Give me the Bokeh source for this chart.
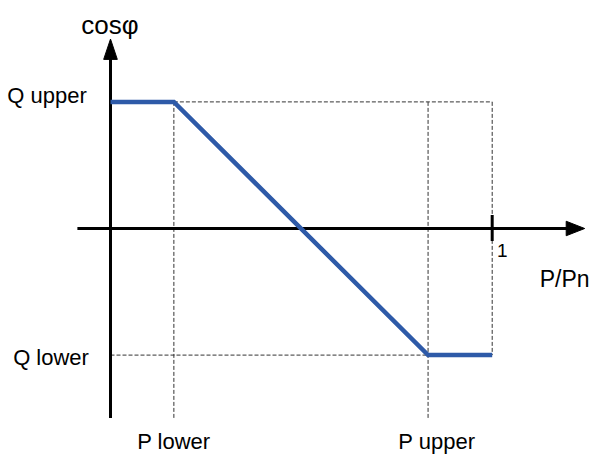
from bokeh.plotting import figure
from bokeh.models import Range1d, Label
from bokeh.embed import file_html
from bokeh.resources import INLINE

# ---- data (P/Pn on x, cosφ setpoint on y) ----
p_breaks = [0.0, 0.166, 0.832, 1.0]
q_values = [1.0, 1.0, -1.0, -1.0]
p_labels = ["P lower", "P upper"]
q_labels = ["Q upper", "Q lower"]
x_title = "P/Pn"
y_title = "cosφ"
x_tick_label = "1"

# ---- layout ----
W, H = 592, 456
X0, X1 = -0.2882, 1.2628
Y0, Y1 = -1.801, 1.801
PX = 1 / 392.0   # data units per reference pixel (x)
PY = 1 / 131.0   # data units per reference pixel (y)

FONT = "Liberation Sans"
BLUE = "#2E5AA8"
DASH = "#333333"

p = figure(width=W, height=H, output_backend="svg", toolbar_location=None,
           x_range=Range1d(X0, X1), y_range=Range1d(Y0, Y1),
           x_axis_type=None, y_axis_type=None, min_border=0)
p.grid.visible = False
p.outline_line_color = None
p.background_fill_color = "white"
p.border_fill_color = "white"

p_low, p_up, p_one = p_breaks[1], p_breaks[2], p_breaks[3]
q_up, q_low = q_values[0], q_values[-1]
y_bottom = q_low - 65 * PY     # bottom end of y axis / guides
y_tip = q_up + 65 * PY         # tip of y arrow
x_left = -34 * PX              # left end of x axis
x_tip = p_one + 95 * PX        # tip of x arrow

# dashed guides
guide_kw = dict(line_color=DASH, line_width=1, line_dash="4 2")
p.line([p_low, p_low], [q_up, y_bottom], **guide_kw)
p.line([p_up, p_up], [q_up, y_bottom], **guide_kw)
p.line([p_one, p_one], [q_up, q_low], **guide_kw)
p.line([p_low, p_one], [q_up, q_up], **guide_kw)
p.line([0, p_up], [q_low, q_low], **guide_kw)

# axes
head_len_y, head_half_y = 21, 7
head_len_x, head_half_x = 19, 7.5
p.line([0, 0], [y_bottom, y_tip - head_len_y * PY + 2 * PY], line_color="black", line_width=3)
p.patch([0 - head_half_y * PX, 0, 0 + head_half_y * PX],
        [y_tip - head_len_y * PY, y_tip, y_tip - head_len_y * PY],
        fill_color="black", line_color="black", line_width=1)
p.line([x_left, x_tip - head_len_x * PX + 2 * PX], [0, 0], line_color="black", line_width=3)
p.patch([x_tip - head_len_x * PX, x_tip, x_tip - head_len_x * PX],
        [head_half_x * PY, 0, -head_half_x * PY],
        fill_color="black", line_color="black", line_width=1)
# tick at P/Pn = 1
p.line([p_one, p_one], [14 * PY, -13 * PY], line_color="black", line_width=3)

# characteristic curve
p.line(p_breaks, q_values, line_color=BLUE, line_width=4.5, line_join="miter")

# labels
def lab(text, x, y, size, align="left"):
    p.add_layout(Label(x=x, y=y, text=text, text_font=FONT, text_font_size=f"{size}px",
                       text_color="black", text_align=align, text_baseline="alphabetic"))

lab(y_title, 0 - 30 * PX, y_tip + 15 * PY, 26)
lab(q_labels[0], 0 - 106 * PX, q_up + 7 * PY, 22)
lab(q_labels[1], 0 - 100 * PX, q_low - 3 * PY, 22)
lab(p_labels[0], p_low, y_bottom - 24 * PY, 22, "center")
lab(p_labels[1], p_up + 9 * PX, y_bottom - 24 * PY, 22, "center")
lab(x_tick_label, p_one + 5 * PX, -23 * PY, 19)
lab(x_title, p_one + 100 * PX, -52 * PY, 23, "right")

open("out.html", "w").write(file_html(p, INLINE))
